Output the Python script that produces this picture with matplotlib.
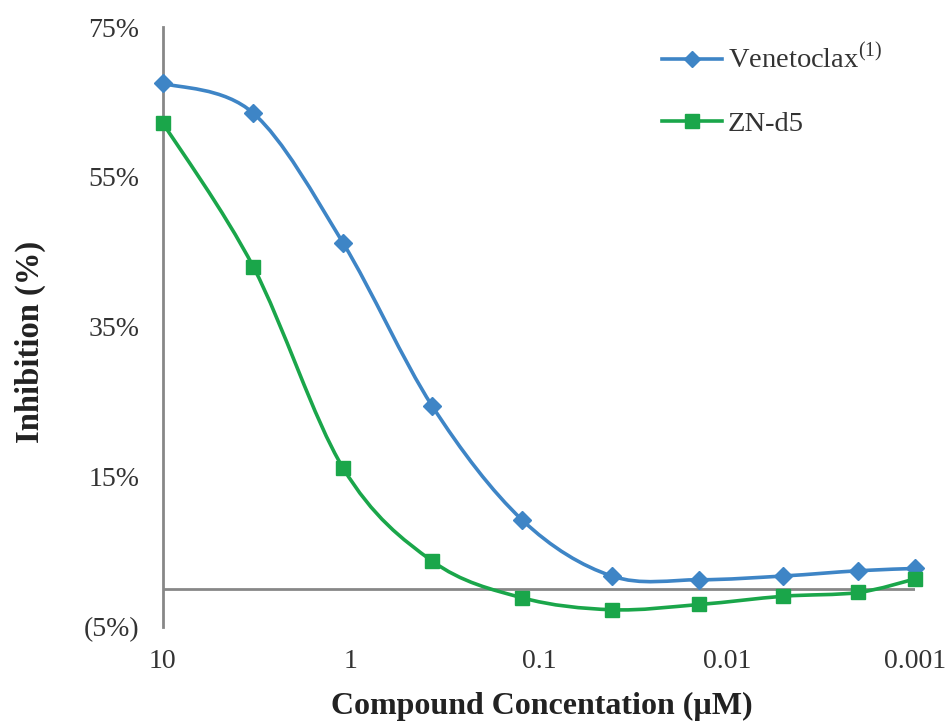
import numpy as np
import matplotlib.pyplot as plt
from matplotlib.path import Path
from matplotlib.patches import PathPatch
from matplotlib.lines import Line2D

# data
conc = [10, 3.3, 1.1, 0.37, 0.123, 0.041, 0.014, 0.005, 0.002, 0.001]
venetoclax = [67.5, 63.5, 46.2, 24.5, 9.3, 1.8, 1.3, 1.8, 2.5, 2.8]
zn_d5 = [62.2, 43.0, 16.2, 3.8, -1.1, -2.7, -2.0, -0.9, -0.4, 1.4]

y_ticks = [-5, 15, 35, 55, 75]
y_labels = ['(5%)', '15%', '35%', '55%', '75%']
x_ticks = [10, 1, 0.1, 0.01, 0.001]
x_labels = ['10', '1', '0.1', '0.01', '0.001']

blue = '#3E85C6'
green = '#1AA64A'
grey = '#878787'

plt.rcParams['font.family'] = ['Liberation Serif', 'DejaVu Serif']
plt.rcParams['mathtext.fontset'] = 'custom'
plt.rcParams['mathtext.rm'] = 'Liberation Serif'


def smooth_path(x, y, t=1 / 6.):
    # excel style smoothed line, bezier built in log-x space
    u = np.log10(x)
    y = np.asarray(y, float)
    n = len(u)
    verts = [(x[0], y[0])]
    codes = [Path.MOVETO]
    for i in range(n - 1):
        a = max(i - 1, 0)
        d = min(i + 2, n - 1)
        c1u = u[i] + (u[i + 1] - u[a]) * t
        c1y = y[i] + (y[i + 1] - y[a]) * t
        c2u = u[i + 1] - (u[d] - u[i]) * t
        c2y = y[i + 1] - (y[d] - y[i]) * t
        verts += [(10 ** c1u, c1y), (10 ** c2u, c2y), (x[i + 1], y[i + 1])]
        codes += [Path.CURVE4] * 3
    return Path(verts, codes)


fig = plt.figure(figsize=(9.47, 7.22), dpi=100)
ax = fig.add_axes([0.172, 0.1316, 0.794, 0.831])

ax.set_xscale('log')
ax.set_xlim(10, 0.001)
ax.set_ylim(-5, 75)

ax.axhline(0, color=grey, lw=2, zorder=1)

for vals, col, mk, ms in [(venetoclax, blue, 'D', 9.5), (zn_d5, green, 's', 10)]:
    ax.add_patch(PathPatch(smooth_path(conc, vals), fill=False, edgecolor=col,
                           lw=2.6, zorder=3, clip_on=False))
    ax.plot(conc, vals, ls='none', marker=mk, ms=ms, color=col, zorder=4, clip_on=False)

ax.set_yticks(y_ticks)
ax.set_yticklabels(y_labels)
ax.set_xticks(x_ticks)
ax.set_xticklabels(x_labels)
ax.minorticks_off()
ax.tick_params(axis='both', length=0, labelsize=20, colors='#333333')
ax.tick_params(axis='y', pad=17)
ax.tick_params(axis='x', pad=16)

for s in ['top', 'right', 'bottom']:
    ax.spines[s].set_visible(False)
ax.spines['left'].set_color(grey)
ax.spines['left'].set_linewidth(2)

ax.set_ylabel('Inhibition (%)', fontsize=23.5, fontweight='bold', color='#222222')
ax.yaxis.set_label_coords(-0.156, 0.475)
ax.set_xlabel('Compound Concentation (µM)', fontsize=23, fontweight='bold', color='#222222')
ax.xaxis.set_label_coords(0.504, -0.108)

handles = [Line2D([], [], color=blue, lw=2.6, marker='D', ms=8.5),
           Line2D([], [], color=green, lw=2.6, marker='s', ms=9.5)]
leg = ax.legend(handles, [r'Venetoclax$^{\mathrm{(1)}}$', 'ZN-d5'],
                loc='upper left', bbox_to_anchor=(662 / 947, 1 - 44 / 722),
                bbox_transform=fig.transFigure, frameon=False, fontsize=20.5,
                handlelength=2.1, handletextpad=0.22, labelspacing=1.27,
                borderpad=0, borderaxespad=0)
for t in leg.get_texts():
    t.set_color('#333333')

fig.savefig('out.png', dpi=100)
